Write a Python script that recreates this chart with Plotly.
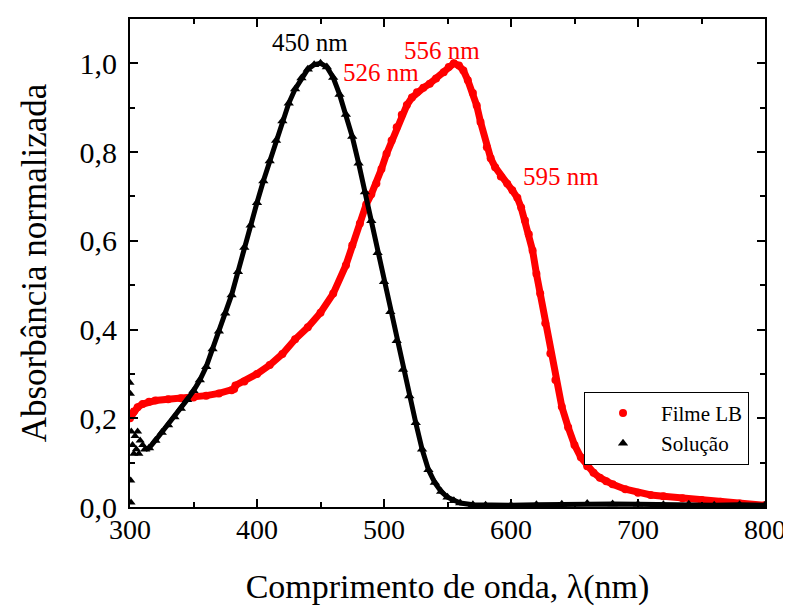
import plotly.graph_objects as go

# ---- Filme LB (red circles) ----
film_wl = [300, 303, 306, 310, 315, 320, 330, 340, 350, 360, 370, 380, 382, 383, 390,
           400, 410, 420, 430, 440, 450, 460, 470, 475, 481, 486, 490, 494, 498, 502,
           506, 510, 514, 518, 522, 526, 531, 536, 541, 547, 551, 555, 559, 562.5, 566,
           570, 573, 576, 581, 584, 587.5, 592, 597, 601, 605, 608, 611, 614, 617, 620,
           623, 627, 631, 635, 640, 645, 650, 655, 660, 665, 670, 675, 680, 690, 700,
           710, 720, 735, 750, 765, 780, 800]
film_abs = [0.200, 0.215, 0.225, 0.232, 0.237, 0.240, 0.243, 0.245, 0.247, 0.251, 0.256, 0.263, 0.266, 0.274, 0.283,
            0.300, 0.320, 0.345, 0.378, 0.405, 0.438, 0.481, 0.545, 0.590, 0.639, 0.682, 0.705, 0.729, 0.762, 0.796,
            0.826, 0.856, 0.884, 0.906, 0.923, 0.935, 0.945, 0.954, 0.966, 0.980, 0.992, 1.000, 0.995, 0.984, 0.962,
            0.933, 0.905, 0.868, 0.811, 0.786, 0.766, 0.745, 0.729, 0.714, 0.697, 0.675, 0.646, 0.615, 0.578, 0.526,
            0.481, 0.414, 0.346, 0.286, 0.226, 0.180, 0.140, 0.112, 0.092, 0.077, 0.066, 0.058, 0.051, 0.040, 0.032,
            0.027, 0.024, 0.020, 0.016, 0.012, 0.008, 0.004]

# ---- Solução (black triangles) ----
sol_noise_wl = [300, 300.3, 300.6, 300.8, 301, 302, 303, 304, 305, 306, 307, 308, 310]
sol_noise_abs = [0.28, 0.255, 0.06, 0.01, 0.17, 0.14, 0.12, 0.16, 0.13, 0.17, 0.12, 0.15, 0.14]

sol_wl = [312, 315, 320, 325, 330, 335, 340, 345, 350, 355, 360, 365, 370, 375, 380,
          385, 390, 395, 400, 405, 410, 415, 420, 425, 430, 435, 440, 445, 450, 455,
          460, 465, 470, 475, 480, 485, 490, 495, 500, 505, 510, 515, 520, 525, 530,
          535, 540, 545, 550, 555, 560, 570, 580, 600, 620, 640, 660, 680, 700, 720,
          740, 760, 780, 800]
sol_abs = [0.130, 0.133, 0.150, 0.168, 0.185, 0.203, 0.222, 0.242, 0.262, 0.286, 0.316, 0.356, 0.396, 0.437, 0.478,
           0.530, 0.585, 0.635, 0.686, 0.735, 0.780, 0.826, 0.870, 0.910, 0.942, 0.967, 0.987, 0.997, 1.000, 0.992,
           0.968, 0.930, 0.885, 0.835, 0.775, 0.710, 0.645, 0.573, 0.508, 0.440, 0.375, 0.310, 0.250, 0.190, 0.130,
           0.084, 0.055, 0.035, 0.022, 0.014, 0.009, 0.005, 0.004, 0.004, 0.005, 0.006, 0.008, 0.007, 0.006, 0.005,
           0.006, 0.004, 0.005, 0.004]

x_ticks = [300, 400, 500, 600, 700, 800]
y_ticks = [0.0, 0.2, 0.4, 0.6, 0.8, 1.0]

peak_labels = ["450 nm", "526 nm", "556 nm", "595 nm"]
peak_x = [441.5, 497.5, 545.5, 639]
peak_y = [1.047, 0.980, 1.028, 0.744]
peak_colors = ["black", "red", "red", "red"]

FONT = "Liberation Serif, Times New Roman, serif"
RED = "#ff0000"

fig = go.Figure()

# connecting strokes (not in legend)
fig.add_trace(go.Scatter(x=film_wl, y=film_abs, mode="lines",
                         line=dict(color=RED, width=7),
                         showlegend=False, hoverinfo="skip"))
fig.add_trace(go.Scatter(x=film_wl, y=film_abs, mode="markers", name="Filme LB",
                         marker=dict(symbol="circle", size=8, color=RED)))

fig.add_trace(go.Scatter(x=sol_wl, y=sol_abs, mode="lines",
                         line=dict(color="black", width=5),
                         showlegend=False, hoverinfo="skip"))
fig.add_trace(go.Scatter(x=sol_noise_wl, y=sol_noise_abs, mode="markers",
                         marker=dict(symbol="triangle-up", size=8, color="black"),
                         showlegend=False))
fig.add_trace(go.Scatter(x=sol_wl, y=sol_abs, mode="markers", name="Solução",
                         marker=dict(symbol="triangle-up", size=9, color="black")))

for t, xx, yy, c in zip(peak_labels, peak_x, peak_y, peak_colors):
    fig.add_annotation(x=xx, y=yy, xref="x", yref="y", text=t, showarrow=False,
                       font=dict(family=FONT, size=25, color=c))

axis_common = dict(showline=True, linecolor="black", linewidth=2, mirror="ticks",
                   ticks="inside", tickcolor="black", tickwidth=2, ticklen=8,
                   showgrid=False, zeroline=False, ticklabeloverflow="allow")

fig.update_xaxes(range=[300, 800], tickvals=x_ticks,
                 minor=dict(dtick=50, ticks="inside", ticklen=5, tickwidth=2, tickcolor="black"),
                 title=dict(text="Comprimento de onda, λ(nm)", standoff=31,
                            font=dict(family=FONT, size=34, color="black")),
                 tickfont=dict(family=FONT, size=28, color="black"),
                 ticklabelstandoff=-4,
                 **axis_common)
fig.update_yaxes(range=[0, 1.1], tickvals=y_ticks, tickformat=".1f",
                 minor=dict(dtick=0.1, ticks="inside", ticklen=5, tickwidth=2, tickcolor="black"),
                 title=dict(text="Absorbância normalizada", standoff=22,
                            font=dict(family=FONT, size=35, color="black")),
                 tickfont=dict(family=FONT, size=30, color="black"),
                 ticklabelstandoff=5,
                 **axis_common)

# page body has an 8px margin: figure is offset by (8, 8)
fig.update_layout(
    width=783, height=602,
    margin=dict(l=122, r=26, t=11, b=103, autoexpand=False),
    paper_bgcolor="white", plot_bgcolor="white",
    separators=",.",
    font=dict(family=FONT, color="black"),
    legend=dict(x=0.715, y=0.236, xanchor="left", yanchor="top",
                bgcolor="white", bordercolor="black", borderwidth=1,
                font=dict(family=FONT, size=21, color="black"),
                itemwidth=66, tracegroupgap=0),
)

fig.write_html("out.html")
